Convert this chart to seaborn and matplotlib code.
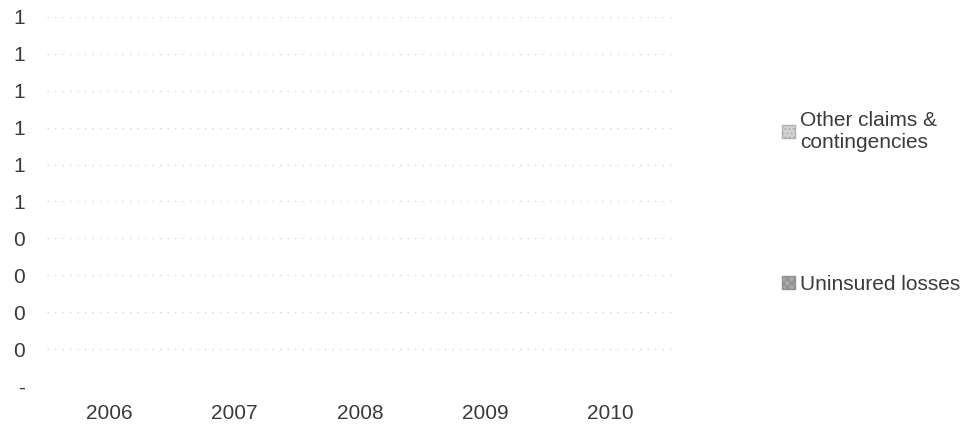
import math
import numpy as np
import pandas as pd
import seaborn as sns
import matplotlib.pyplot as plt
from matplotlib.patches import Patch
from matplotlib.ticker import FuncFormatter, MultipleLocator

# data (all series are zero in the source, so Excel shows a 0-1 axis)
years = ["2006", "2007", "2008", "2009", "2010"]
uninsured_losses = [0, 0, 0, 0, 0]
other_claims = [0, 0, 0, 0, 0]

sns.set_theme(style="white")
plt.rcParams["font.family"] = ["Liberation Sans", "DejaVu Sans"]

text_col = "#3a3a3a"

fig = plt.figure(figsize=(9.66, 4.26), dpi=100)
ax = fig.add_axes([47 / 966, 1 - 386 / 426, (673 - 47) / 966, (386 - 17) / 426])

df = pd.DataFrame({"year": years,
                   "uninsured": uninsured_losses,
                   "other": other_claims})
df["total"] = df["uninsured"] + df["other"]

# stacked bars: total first, then bottom series over it
sns.barplot(data=df, x="year", y="total", color="#d4d4d4", width=0.55,
            hatch="....", linewidth=0, ax=ax)
sns.barplot(data=df, x="year", y="uninsured", color="#a8a8a8", width=0.55,
            hatch="xxxx", linewidth=0, ax=ax)

ax.set_ylim(0, 1)
ax.yaxis.set_major_locator(MultipleLocator(0.1))


# accounting style: true zero is a dash, everything else rounded to integer
def acct(v, pos):
    if abs(v) < 1e-9:
        return "-"
    return f"{math.floor(v + 0.5 + 1e-9):,}"


ax.yaxis.set_major_formatter(FuncFormatter(acct))
ax.grid(axis="y", color="#d2d2d2", linestyle=(0, (1, 5)), linewidth=0.9)
ax.set_axisbelow(True)
for s in ax.spines.values():
    s.set_visible(False)

ax.set_xlabel("")
ax.set_ylabel("")
ax.tick_params(axis="y", labelsize=15, labelcolor=text_col, pad=16, length=0)
ax.tick_params(axis="x", labelsize=15, labelcolor=text_col, pad=13, length=0)

handles = [Patch(facecolor="#d4d4d4", edgecolor="#b0b0b0", hatch="....",
                 label="Other claims &\ncontingencies"),
           Patch(facecolor="#a8a8a8", edgecolor="#909090", hatch="xxxx",
                 label="Uninsured losses")]
fig.legend(handles=handles, loc="upper left", bbox_to_anchor=(782 / 966, 1 - 111 / 426),
           frameon=False, fontsize=15, labelcolor=text_col,
           handlelength=0.6, handleheight=0.6, handletextpad=0.25,
           labelspacing=5.9, borderpad=0, borderaxespad=0)

plt.savefig("out.png", dpi=100)
